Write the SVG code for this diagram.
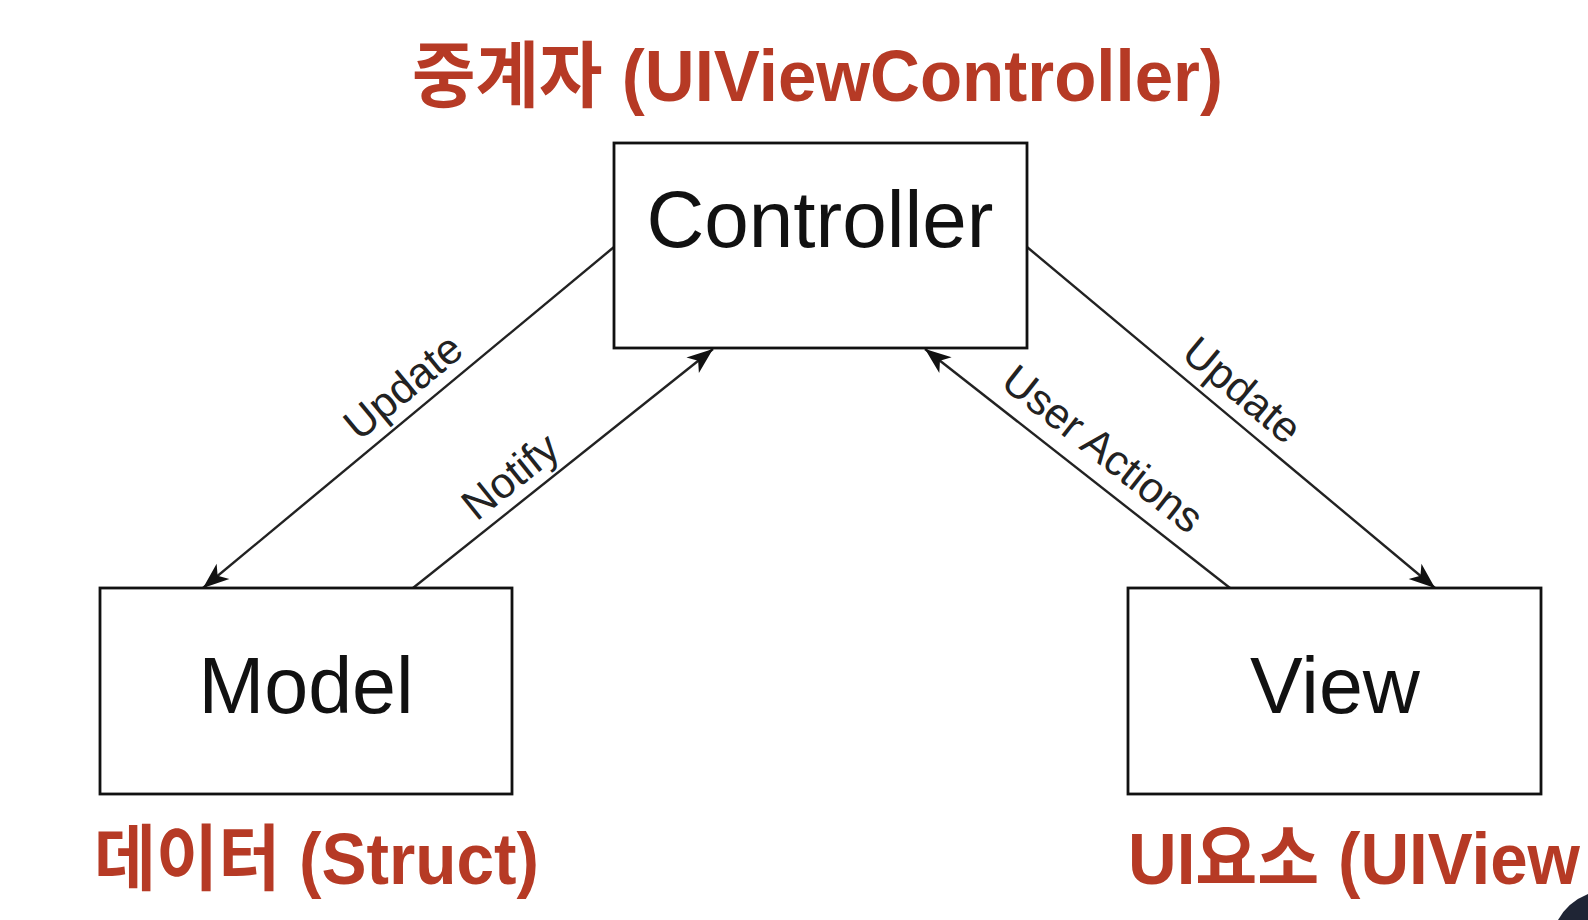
<svg xmlns="http://www.w3.org/2000/svg" width="1588" height="920" viewBox="0 0 1588 920">
  <style>
    .box { fill: #ffffff; stroke: #111111; stroke-width: 2.8; }
    .node-label { font-family: "Liberation Sans", Arial, sans-serif; fill: #111111; text-anchor: middle; }
    .edge { fill: none; stroke: #222222; stroke-width: 2.4; }
    .edge-label { font-family: "Liberation Sans", Arial, sans-serif; font-size: 43px; fill: #222222; text-anchor: middle; }
    .title { font-family: "Liberation Sans", "Noto Sans CJK KR", sans-serif; font-weight: bold; font-size: 72px; fill: #B63A25; }
  </style>
  <defs>
    <marker id="arrow" markerUnits="userSpaceOnUse" viewBox="-28 -12 30 24" refX="0" refY="0" markerWidth="30" markerHeight="24" orient="auto">
      <path d="M0,0 L-26,-10 L-19,0 L-26,10 Z" fill="#111111"/>
    </marker>
  </defs>
  <rect x="0" y="0" width="1588" height="920" fill="#ffffff"/>

  <g id="titles">
    <text class="title" x="412" y="101" textLength="811" lengthAdjust="spacingAndGlyphs">중계자 (UIViewController)</text>
    <text class="title" x="94" y="884" textLength="445" lengthAdjust="spacingAndGlyphs">데이터 (Struct)</text>
    <text class="title" x="1128" y="884" textLength="452" lengthAdjust="spacingAndGlyphs">UI요소 (UIView</text>
  </g>

  <g id="connectors">
    <line class="edge" x1="614" y1="247" x2="203" y2="588" marker-end="url(#arrow)"/>
    <line class="edge" x1="413" y1="588" x2="713" y2="349" marker-end="url(#arrow)"/>
    <line class="edge" x1="1230" y1="588" x2="925" y2="349" marker-end="url(#arrow)"/>
    <line class="edge" x1="1027" y1="247" x2="1435" y2="588" marker-end="url(#arrow)"/>
    <text class="edge-label" transform="translate(420,407) rotate(-39.6)" y="-12">Update</text>
    <text class="edge-label" transform="translate(527,497) rotate(-38.7)" y="-12">Notify</text>
    <text class="edge-label" transform="translate(1084,473) rotate(38.2)" y="-16">User Actions</text>
    <text class="edge-label" transform="translate(1224,412) rotate(39.9)" y="-14">Update</text>
  </g>

  <g id="node-controller">
    <rect class="box" x="614" y="143" width="413" height="205"/>
    <text class="node-label" x="820" y="247" font-size="80">Controller</text>
  </g>
  <g id="node-model">
    <rect class="box" x="100" y="588" width="412" height="206"/>
    <text class="node-label" x="306" y="713" font-size="79">Model</text>
  </g>
  <g id="node-view">
    <rect class="box" x="1128" y="588" width="413" height="206"/>
    <text class="node-label" x="1335" y="713" font-size="79">View</text>
  </g>

  <path d="M1558,920 Q1568,902 1588,894 L1588,920 Z" fill="#1F2535"/>
</svg>
